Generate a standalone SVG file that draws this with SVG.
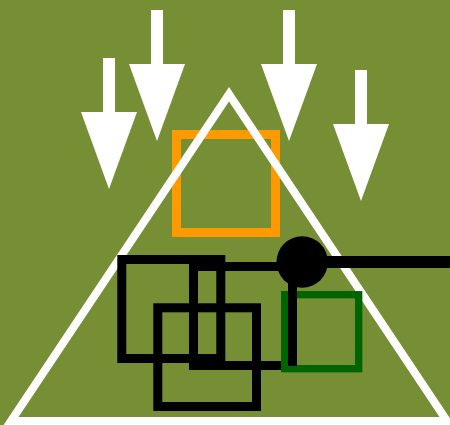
<svg xmlns="http://www.w3.org/2000/svg" width="450" height="425" viewBox="0 0 450 425">
<style>
.bk{fill:none;stroke:#000;stroke-width:9}
.wa{fill:#fff}
</style>
<defs>
<path id="arr" d="M-6,-131 H6 V-77 H28 L0,0 L-28,-77 H-6 Z"/>
</defs>
<rect width="450" height="425" fill="#768F35"/>
<g id="arrows">
<use href="#arr" class="wa" transform="translate(109,189)"/>
<use href="#arr" class="wa" transform="translate(157,141)"/>
<use href="#arr" class="wa" transform="translate(289,141)"/>
<use href="#arr" class="wa" transform="translate(361,201)"/>
</g>
<g id="orange"><rect x="176.5" y="134.5" width="99" height="98" fill="none" stroke="#FF9900" stroke-width="9"/></g>
<g id="triangle"><polygon points="229,94.2 11,421 447,421" fill="none" stroke="#fff" stroke-width="8" stroke-miterlimit="10"/></g>
<g id="rectA"><rect class="bk" x="121.8" y="259.5" width="99" height="99"/></g>
<g id="rectC"><rect class="bk" x="157.8" y="307.8" width="98.7" height="98.7"/></g>
<g id="rectB"><rect class="bk" x="193.5" y="266.5" width="99" height="99"/></g>
<g id="green"><rect x="284.7" y="294.7" width="74" height="74" fill="none" stroke="#006400" stroke-width="7.3"/></g>
<g id="connectors">
<line x1="302" y1="262" x2="450" y2="262" stroke="#000" stroke-width="12"/>
<line x1="292.5" y1="262" x2="292.5" y2="366" stroke="#000" stroke-width="9"/>
</g>
<g id="circle"><circle cx="302.2" cy="262" r="25.7" fill="#000"/></g>
</svg>
